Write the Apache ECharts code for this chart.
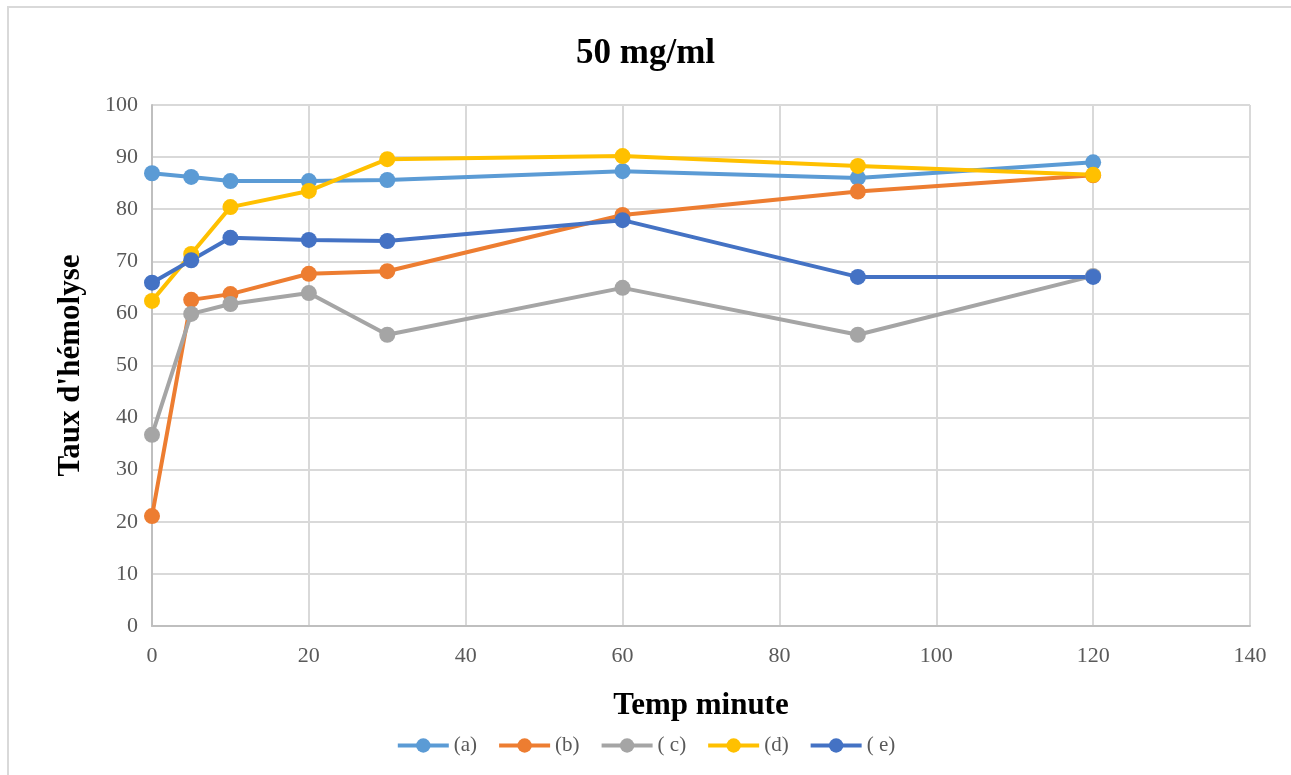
<!DOCTYPE html>
<html>
<head>
<meta charset="utf-8">
<script src="https://cdn.jsdelivr.net/npm/echarts@6/dist/echarts.min.js"></script>
<style>
html, body { margin: 0; padding: 0; background: #fff; }
#frame { position: absolute; left: 7px; top: 6px; width: 1300px; height: 800px; border: 2px solid #d9d9d9; box-sizing: border-box; }
#chart { position: absolute; left: 0; top: 0; width: 1291px; height: 775px; }
</style>
</head>
<body>
<div id="frame"></div>
<div id="chart"></div>
<script>
const times = [0, 5, 10, 20, 30, 60, 90, 120]
const serieA = [86.9, 86.2, 85.4, 85.4, 85.6, 87.3, 86.0, 89.0]
const serieB = [21.1, 62.6, 63.7, 67.6, 68.1, 78.9, 83.4, 86.5]
const serieC = [36.7, 59.9, 61.8, 63.9, 55.9, 64.9, 55.9, 67.2]
const serieD = [62.4, 71.4, 80.4, 83.5, 89.6, 90.2, 88.3, 86.6]
const serieE = [65.9, 70.2, 74.5, 74.1, 73.9, 77.9, 67.0, 67.0]
const names = ['(a)', '(b)', '( c)', '(d)', '( e)']
const colors = ['#5b9bd5', '#ed7d31', '#a5a5a5', '#ffc000', '#4472c4']

const font = 'Liberation Serif'
const chart = echarts.init(document.getElementById('chart'))

const makeSerie = (name, values, color) => ({
  name: name,
  type: 'line',
  data: times.map((t, i) => [t, values[i]]),
  symbol: 'circle',
  symbolSize: 16,
  lineStyle: { color: color, width: 4 },
  itemStyle: { color: color },
})

chart.setOption({
  animation: false,
  color: colors,
  title: {
    text: '50 mg/ml',
    left: 'center',
    top: 31,
    textStyle: { fontFamily: font, fontSize: 35, fontWeight: 'bold', color: '#000' },
  },
  legend: {
    bottom: 14,
    left: 'center',
    itemWidth: 51,
    itemHeight: 18,
    itemGap: 20,
    lineStyle: { width: 4 },
    textStyle: { fontFamily: font, fontSize: 21, color: '#595959' },
    data: names,
  },
  grid: { left: 152, right: 41, top: 105, bottom: 149 },
  xAxis: {
    type: 'value',
    min: 0,
    max: 140,
    interval: 20,
    name: 'Temp minute',
    nameLocation: 'middle',
    nameGap: 64,
    nameTextStyle: { fontFamily: font, fontSize: 31, fontWeight: 'bold', color: '#000' },
    axisLine: { lineStyle: { color: '#bfbfbf', width: 2 } },
    axisTick: { show: false },
    axisLabel: { fontFamily: font, fontSize: 22, color: '#595959', margin: 19 },
    splitLine: { lineStyle: { color: '#d9d9d9', width: 2 } },
  },
  yAxis: {
    type: 'value',
    min: 0,
    max: 100,
    interval: 10,
    name: "Taux d'hémolyse",
    nameLocation: 'middle',
    nameGap: 66,
    nameTextStyle: { fontFamily: font, fontSize: 31, fontWeight: 'bold', color: '#000' },
    axisLine: { show: true, lineStyle: { color: '#bfbfbf', width: 2 } },
    axisTick: { show: false },
    axisLabel: { fontFamily: font, fontSize: 22, color: '#595959', margin: 14 },
    splitLine: { lineStyle: { color: '#d9d9d9', width: 2 } },
  },
  series: [
    makeSerie(names[0], serieA, colors[0]),
    makeSerie(names[1], serieB, colors[1]),
    makeSerie(names[2], serieC, colors[2]),
    makeSerie(names[3], serieD, colors[3]),
    makeSerie(names[4], serieE, colors[4]),
  ],
})
</script>
</body>
</html>
